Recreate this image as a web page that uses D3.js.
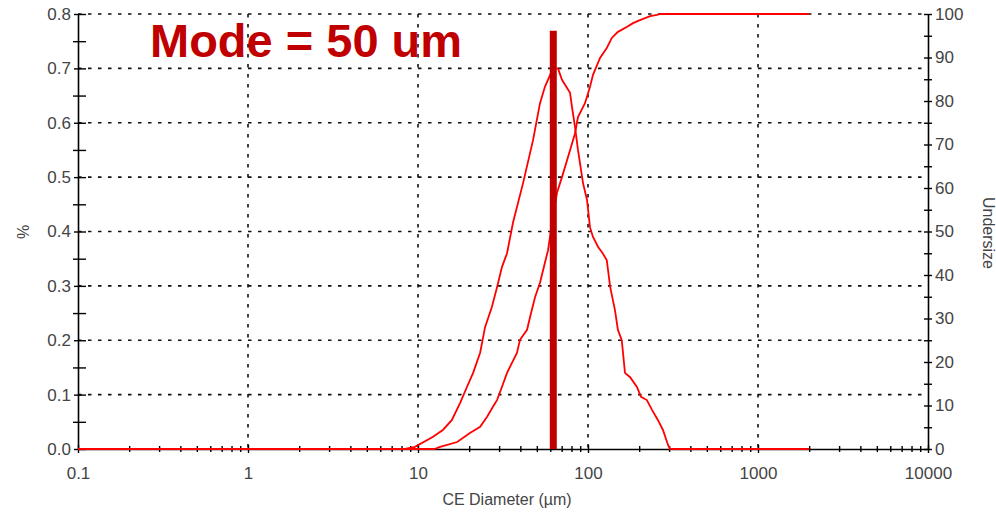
<!DOCTYPE html>
<html>
<head>
<meta charset="utf-8">
<script src="https://cdn.jsdelivr.net/npm/d3@7"></script>
<style>
  body { margin: 0; background: #fff; }
  svg { display: block; }
  .tick text { font-family: "Liberation Sans", Arial, sans-serif; fill: #444; }
</style>
</head>
<body>
<svg id="chart"></svg>
<script>
// size distribution, diameter in µm
const freqDiam = [0.1, 8.4, 9.6, 12.2, 14.0, 15.8, 17.7, 19.4, 21.1, 23.2, 24.8, 27.2, 29.2, 31.2, 33.4,
  36.2, 41.5, 47.5, 52.2, 55.8, 62.2, 66.6, 70.3, 78.4, 80.5, 83.9, 87.3, 93.5, 98.7, 102.7, 107,
  114.5, 122, 129, 135, 144, 150, 158, 165, 177, 194, 205, 222, 238, 258, 276, 296, 304, 2000];
const freqPct = [0, 0, 0.004, 0.022, 0.035, 0.053, 0.085, 0.114, 0.14, 0.177, 0.224, 0.261, 0.298, 0.335, 0.36,
  0.416, 0.489, 0.568, 0.636, 0.666, 0.70, 0.70, 0.679, 0.655, 0.629, 0.592, 0.55, 0.489, 0.458, 0.408, 0.39,
  0.372, 0.36, 0.347, 0.298, 0.256, 0.219, 0.2, 0.14, 0.132, 0.114, 0.096, 0.09, 0.072, 0.053, 0.035, 0.007, 0, 0];

const cumDiam = [0.1, 12.5, 13.5, 17, 20.2, 23.2, 25.5, 27.6, 29.2, 31.2, 33.4, 35.7, 38.2, 39.8, 43.8, 45.6, 48.8,
  52.2, 55.8, 58.2, 61.4, 65.7, 70.3, 78.4, 83.9, 87.3, 96, 102.7, 107, 117.7, 129, 138, 150, 169, 184, 202,
  232, 255, 265, 2000];
const cumUnder = [0, 0, 0.5, 1.6, 3.7, 5.1, 7.4, 9.7, 11.3, 14.3, 17.5, 19.8, 22.1, 25.1, 27.4, 30.3, 34.9,
  38.2, 42.8, 45.7, 52, 58.9, 62.5, 68.7, 72.6, 76.3, 79.5, 83.2, 86, 89.9, 92.2, 94.5, 95.9, 97, 97.9,
  98.6, 99.5, 99.8, 100, 100];

const modeDiam = 62.5;     // position of the marker line
const modeTop = 0.769;     // top of the marker in % units
const modeLabel = "Mode = 50 um";

const xMajor = [0.1, 1, 10, 100, 1000, 10000];
const xLabels = ["0.1", "1", "10", "100", "1000", "10000"];
const yLeftTicks = [0, 0.1, 0.2, 0.3, 0.4, 0.5, 0.6, 0.7, 0.8];
const yRightTicks = [0, 10, 20, 30, 40, 50, 60, 70, 80, 90, 100];

const W = 996, H = 517;
const m = { left: 78, right: 68, top: 14, bottom: 68 };
const iw = W - m.left - m.right, ih = H - m.top - m.bottom;
const font = '"Liberation Sans", Arial, sans-serif';

const svg = d3.select("#chart").attr("width", W).attr("height", H);
const g = svg.append("g").attr("transform", `translate(${m.left},${m.top})`);

const x = d3.scaleLog().domain([0.1, 10000]).range([0, iw]);
const yL = d3.scaleLinear().domain([0, 0.8]).range([ih, 0]);
const yR = d3.scaleLinear().domain([0, 100]).range([ih, 0]);

// grid (dotted)
const gridStyle = sel => sel.attr("stroke", "#111").attr("stroke-width", 1.6).attr("stroke-dasharray", "3.5,6.5");
g.append("g").selectAll("line").data(yLeftTicks.slice(1)).join("line")
  .attr("x1", 0).attr("x2", iw).attr("y1", d => yL(d)).attr("y2", d => yL(d)).call(gridStyle);
g.append("g").selectAll("line").data(xMajor.slice(1, -1)).join("line")
  .attr("x1", d => x(d)).attr("x2", d => x(d)).attr("y1", 0).attr("y2", ih).call(gridStyle);

// minor tick values
const xMinor = [];
for (let p = -1; p < 4; p++) for (let k = 2; k < 10; k++) xMinor.push(k * Math.pow(10, p));

function styleAxis(a) {
  a.select(".domain").attr("stroke", "#000").attr("stroke-width", 1.6);
  a.selectAll(".tick line").attr("stroke", "#000").attr("stroke-width", 1.4);
  a.selectAll(".tick text").style("font-size", "17px").style("font-family", font).attr("fill", "#444");
}

// bottom axis
const xa = g.append("g").attr("transform", `translate(0,${ih})`)
  .call(d3.axisBottom(x).tickValues(xMajor).tickFormat((d, i) => xLabels[i]).tickSizeInner(4).tickSizeOuter(0).tickPadding(14));
xa.selectAll(".tick line").attr("y1", -4);
styleAxis(xa);
const xm = g.append("g").attr("transform", `translate(0,${ih})`)
  .call(d3.axisBottom(x).tickValues(xMinor).tickFormat("").tickSizeInner(3).tickSizeOuter(0));
xm.select(".domain").remove();
xm.selectAll(".tick line").attr("y1", -3).attr("stroke", "#000").attr("stroke-width", 1.4);

// left axis
const ya = g.append("g")
  .call(d3.axisLeft(yL).tickValues(yLeftTicks).tickFormat(d3.format(".1f")).tickSizeInner(4).tickSizeOuter(0).tickPadding(3));
ya.selectAll(".tick line").attr("x2", 8).attr("x1", -4);
styleAxis(ya);
const ym = g.append("g").call(d3.axisLeft(yL).tickValues(d3.range(0.05, 0.8, 0.1)).tickFormat("").tickSizeOuter(0));
ym.select(".domain").remove();
ym.selectAll(".tick line").attr("x1", -5).attr("x2", 8).attr("stroke", "#000").attr("stroke-width", 1.4);

// right axis
const yra = g.append("g").attr("transform", `translate(${iw},0)`)
  .call(d3.axisRight(yR).tickValues(yRightTicks).tickSizeInner(4).tickSizeOuter(0).tickPadding(3));
yra.selectAll(".tick line").attr("x1", -4);
styleAxis(yra);
const yrm = g.append("g").attr("transform", `translate(${iw},0)`)
  .call(d3.axisRight(yR).tickValues(d3.range(5, 100, 10)).tickFormat("").tickSizeOuter(0));
yrm.select(".domain").remove();
yrm.selectAll(".tick line").attr("x1", -4).attr("x2", 4).attr("stroke", "#000").attr("stroke-width", 1.4);

// axis titles
svg.append("text").attr("x", m.left + x(10) + 89).attr("y", 505).attr("text-anchor", "middle")
  .style("font-family", font).style("font-size", "16px").attr("fill", "#444").text("CE Diameter (µm)");
svg.append("text").attr("transform", "translate(29,232) rotate(-90)").attr("text-anchor", "middle")
  .style("font-family", font).style("font-size", "16px").attr("fill", "#444").text("%");
svg.append("text").attr("transform", "translate(983,233) rotate(90)").attr("text-anchor", "middle")
  .style("font-family", font).style("font-size", "16px").attr("fill", "#444").text("Undersize");

// curves
const freqLine = d3.line().x(d => x(d[0])).y(d => yL(d[1]));
const cumLine = d3.line().x(d => x(d[0])).y(d => yR(d[1]));
g.append("path").datum(freqDiam.map((d, i) => [d, freqPct[i]]))
  .attr("d", freqLine).attr("fill", "none").attr("stroke", "#ff0000").attr("stroke-width", 1.8);
g.append("path").datum(cumDiam.map((d, i) => [d, cumUnder[i]]))
  .attr("d", cumLine).attr("fill", "none").attr("stroke", "#ff0000").attr("stroke-width", 1.8);

// mode marker
g.append("line").attr("x1", x(modeDiam)).attr("x2", x(modeDiam))
  .attr("y1", yL(modeTop)).attr("y2", yL(0))
  .attr("stroke", "#c00000").attr("stroke-width", 7);
svg.append("text").attr("x", 150).attr("y", 57)
  .style("font-family", font).style("font-size", "47px").style("font-weight", "bold")
  .attr("fill", "#c00000").text(modeLabel);
</script>
</body>
</html>
